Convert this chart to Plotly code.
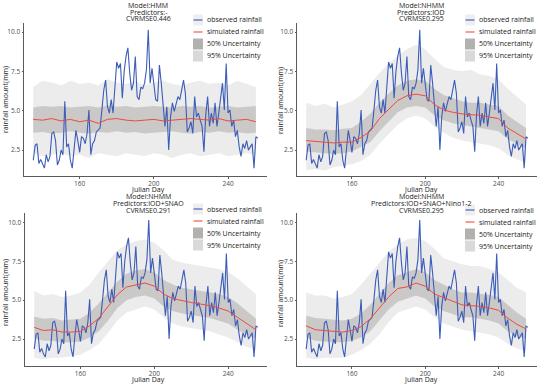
import plotly.graph_objects as go

# ---------------- data ----------------
obs_start_day = 135
observed = [1.85, 2.8, 2.9, 1.65, 1.9, 1.55, 1.35, 2.2, 1.75, 2.1,
            3.55, 3.65, 3.1, 1.55, 1.85, 2.5, 2.2, 5.6, 2.7, 2.9,
            1.85, 1.35, 2.7, 3.75, 3.1, 2.35, 3.35, 3.25, 2.9, 3.55,
            5.05, 2.2, 2.9, 3.1, 3.65, 3.75, 3.9, 5.05, 6.3, 6.95,
            5.25, 4.85, 5.7, 4.85, 6.3, 8.1, 7.7, 8.0, 5.8, 7.5,
            8.45, 9.0, 7.4, 6.3, 6.75, 8.45, 5.9, 5.7, 6.5, 6.4,
            6.75, 7.6, 10.15, 6.75, 7.7, 6.5, 5.7, 5.6, 7.9, 6.75,
            5.5, 4.0, 5.25, 2.5, 4.6, 5.5, 4.95, 5.5, 5.9, 5.7,
            6.3, 6.95, 6.1, 3.65, 3.9, 4.3, 3.55, 5.9, 4.6, 4.85,
            4.4, 4.0, 2.4, 4.75, 5.9, 4.0, 4.85, 4.2, 5.5, 4.0,
            4.85, 5.7, 6.75, 5.05, 8.0, 4.85, 5.05, 4.0, 4.4, 3.35,
            3.75, 2.7, 2.1, 2.9, 2.6, 3.1, 2.5, 2.7, 2.9, 1.35,
            3.35, 3.25]
obs_days = list(range(obs_start_day, obs_start_day + len(observed)))

sim_days = list(range(135, 256, 5))

# Panel 1: HMM
p1_mean = [4.45, 4.4, 4.5, 4.35, 4.45, 4.3, 4.4, 4.2, 4.45, 4.5, 4.4, 4.35, 4.4,
           4.45, 4.35, 4.4, 4.45, 4.5, 4.45, 4.4, 4.5, 4.35, 4.4, 4.45, 4.3]
p1_hi50 = [5.2, 5.3, 5.25, 5.3, 5.2, 5.25, 5.3, 5.2, 5.35, 5.25, 5.3, 5.2, 5.25,
           5.3, 5.25, 5.2, 5.3, 5.25, 5.3, 5.2, 5.25, 5.3, 5.2, 5.25, 5.3]
p1_lo50 = [3.6, 3.65, 3.55, 3.6, 3.7, 3.6, 3.55, 3.65, 3.6, 3.7, 3.6, 3.65, 3.55,
           3.6, 3.65, 3.7, 3.6, 3.55, 3.65, 3.6, 3.7, 3.6, 3.65, 3.55, 3.6]
p1_hi95 = [6.5, 6.9, 6.8, 6.6, 6.9, 6.7, 6.8, 6.6, 7.0, 6.8, 6.7, 6.9, 6.6,
           6.8, 6.9, 6.7, 6.6, 6.8, 6.9, 6.7, 6.8, 6.6, 6.9, 6.7, 6.5]
p1_lo95 = [2.3, 2.1, 2.2, 2.3, 2.1, 2.2, 2.0, 2.3, 2.2, 2.1, 2.3, 2.2, 2.1,
           2.3, 2.2, 2.0, 2.2, 2.3, 2.1, 2.2, 2.3, 2.1, 2.2, 2.3, 2.2]

# Panel 2: NHMM, IOD
p2_mean = [3.1, 3.05, 3.0, 2.95, 3.0, 3.0, 3.3, 3.7, 4.5, 5.05, 5.65, 5.95, 6.05,
           5.95, 5.4, 5.05, 4.9, 4.8, 4.75, 4.7, 4.6, 4.5, 3.9, 3.55, 3.2]
p2_hi50 = [3.9, 3.8, 3.8, 3.75, 3.85, 3.9, 4.3, 4.8, 5.5, 6.1, 6.6, 6.9, 7.0,
           6.9, 6.4, 6.0, 5.8, 5.6, 5.5, 5.5, 5.4, 5.3, 4.7, 4.3, 3.9]
p2_lo50 = [2.4, 2.35, 2.3, 2.25, 2.3, 2.4, 2.7, 3.0, 3.7, 4.3, 4.9, 5.2, 5.3,
           5.2, 4.7, 4.4, 4.2, 4.1, 4.0, 3.9, 3.8, 3.7, 3.2, 2.9, 2.6]
p2_hi95 = [5.5, 5.3, 5.45, 5.2, 5.4, 5.6, 6.0, 6.7, 7.4, 8.0, 8.5, 8.9, 9.2,
           8.9, 8.3, 7.8, 7.6, 7.5, 7.6, 7.3, 7.2, 7.0, 6.4, 5.9, 5.4]
p2_lo95 = [1.2, 1.3, 1.2, 1.4, 1.5, 1.6, 1.8, 2.2, 2.9, 3.5, 4.1, 4.5, 4.7,
           4.5, 4.0, 3.6, 3.3, 3.1, 3.0, 2.9, 2.8, 2.6, 2.2, 1.9, 1.7]

# Panel 3: NHMM, IOD+SNAO
p3_mean = [3.25, 3.05, 3.1, 2.95, 2.95, 3.0, 3.35, 3.85, 4.6, 5.35, 5.85, 6.0, 6.1,
           5.9, 5.4, 5.1, 4.95, 4.85, 4.75, 4.65, 4.5, 4.3, 3.9, 3.5, 3.1]
p3_hi50 = [3.95, 3.8, 3.85, 3.7, 3.75, 3.8, 4.2, 4.8, 5.5, 6.2, 6.7, 6.9, 7.0,
           6.8, 6.3, 6.0, 5.8, 5.7, 5.6, 5.5, 5.4, 5.2, 4.8, 4.3, 3.8]
p3_lo50 = [2.55, 2.4, 2.4, 2.3, 2.3, 2.35, 2.6, 3.0, 3.7, 4.5, 5.0, 5.2, 5.3,
           5.1, 4.6, 4.3, 4.15, 4.05, 3.95, 3.85, 3.7, 3.5, 3.1, 2.8, 2.5]
p3_hi95 = [5.6, 5.3, 5.4, 5.2, 5.3, 5.5, 6.0, 6.8, 7.5, 8.2, 8.6, 8.8, 8.9,
           8.7, 8.2, 7.6, 7.4, 7.3, 7.2, 7.1, 7.0, 6.8, 6.4, 5.9, 5.4]
p3_lo95 = [1.3, 1.2, 1.3, 1.3, 1.4, 1.5, 1.8, 2.2, 2.9, 3.7, 4.2, 4.4, 4.6,
           4.4, 3.9, 3.5, 3.3, 3.2, 3.1, 3.0, 2.8, 2.6, 2.3, 2.0, 1.8]

# Panel 4: NHMM, IOD+SNAO+Nino1-2
p4_mean = [3.35, 3.1, 3.05, 3.0, 2.95, 3.05, 3.3, 3.8, 4.5, 5.2, 5.75, 5.85, 6.1,
           5.9, 5.4, 5.15, 4.9, 4.7, 4.65, 4.6, 4.5, 4.35, 3.85, 3.45, 3.15]
p4_hi50 = [4.0, 3.85, 3.8, 3.75, 3.7, 3.8, 4.15, 4.7, 5.4, 6.1, 6.6, 6.8, 7.0,
           6.8, 6.3, 6.0, 5.7, 5.5, 5.5, 5.4, 5.35, 5.2, 4.7, 4.2, 3.8]
p4_lo50 = [2.6, 2.4, 2.35, 2.3, 2.3, 2.4, 2.6, 3.0, 3.7, 4.4, 4.9, 5.1, 5.3,
           5.1, 4.6, 4.3, 4.1, 3.9, 3.9, 3.8, 3.7, 3.5, 3.0, 2.7, 2.5]
p4_hi95 = [5.5, 5.3, 5.3, 5.1, 5.2, 5.4, 6.0, 6.7, 7.4, 8.1, 8.6, 8.9, 9.0,
           8.8, 8.3, 7.7, 7.5, 7.3, 7.2, 7.2, 7.0, 6.8, 6.3, 5.8, 5.5]
p4_lo95 = [1.3, 1.2, 1.3, 1.3, 1.3, 1.5, 1.8, 2.2, 2.8, 3.6, 4.2, 4.4, 4.6,
           4.4, 3.9, 3.5, 3.3, 3.1, 3.0, 2.9, 2.8, 2.6, 2.2, 1.9, 1.7]

titles = [
    ["Model:HMM", "Predictors:-", "CVRMSE0.446"],
    ["Model:NHMM", "Predictors:IOD", "CVRMSE0.295"],
    ["Model:NHMM", "Predictors:IOD+SNAO", "CVRMSE0.291"],
    ["Model:NHMM", "Predictors:IOD+SNAO+Nino1-2", "CVRMSE0.295"],
]
legend_labels = ["observed rainfall", "simulated rainfall", "50% Uncertainty", "95% Uncertainty"]
x_title = "Julian Day"
y_title = "rainfall amount(mm)"
x_ticks = [160, 200, 240]
y_ticks = [2.5, 5.0, 7.5, 10.0]
y_ticktext = ["2.5", "5.0", "7.5", "10.0"]

panels = [
    (p1_mean, p1_hi50, p1_lo50, p1_hi95, p1_lo95),
    (p2_mean, p2_hi50, p2_lo50, p2_hi95, p2_lo95),
    (p3_mean, p3_hi50, p3_lo50, p3_hi95, p3_lo95),
    (p4_mean, p4_hi50, p4_lo50, p4_hi95, p4_lo95),
]

# ---------------- style / layout ----------------
W, H = 550, 386
FONT = "Open Sans"
BLUE = "#3b5cb8"
RED = "#ec4b3f"
BAND95 = "#ececec"
BAND50 = "#cbc8c8"
KEY50 = "#b3b0b0"
KEY95 = "#d9d9d9"
TXT = "#222222"
TICK = "#4d4d4d"
AX = "#5a5a5a"

# plot areas in pixels: (left, right, top, bottom)
areas = [(24, 267, 22.6, 176), (297, 537, 22.6, 176),
         (25, 267, 213, 366), (297, 537, 213, 366)]
yranges = [[0.85, 10.6], [0.85, 10.6], [0.77, 10.6], [0.77, 10.6]]
title_pos = [(148, 5), (421, 5), (148, 196), (421, 196)]
legend_pos = [(193, 14), (465, 14), (193, 203), (465, 204)]
xtitle_pos = [(148, 189), (421, 189), (148, 379), (421, 379)]
ytitle_pos = [(5, 100), (280, 100), (5, 293), (280, 293)]

fig = go.Figure()
layout = dict(width=W, height=H, margin=dict(l=0, r=0, t=0, b=0),
              paper_bgcolor="white", plot_bgcolor="white", showlegend=False,
              font=dict(family=FONT, color=TXT, size=7))
annotations = []
shapes = []

def px(x):
    return x / W

def py(y):
    return 1 - y / H

for i, (mean, hi50, lo50, hi95, lo95) in enumerate(panels):
    k = "" if i == 0 else str(i + 1)
    xa, ya = "x" + k, "y" + k
    fig.add_trace(go.Scatter(x=sim_days + sim_days[::-1], y=hi95 + lo95[::-1],
                             fill="toself", fillcolor=BAND95, line=dict(width=0),
                             mode="lines", hoverinfo="skip", xaxis=xa, yaxis=ya))
    fig.add_trace(go.Scatter(x=sim_days + sim_days[::-1], y=hi50 + lo50[::-1],
                             fill="toself", fillcolor=BAND50, line=dict(width=0),
                             mode="lines", hoverinfo="skip", xaxis=xa, yaxis=ya))
    fig.add_trace(go.Scatter(x=obs_days, y=observed, mode="lines",
                             line=dict(color=BLUE, width=1.1), xaxis=xa, yaxis=ya))
    fig.add_trace(go.Scatter(x=sim_days, y=mean, mode="lines",
                             line=dict(color=RED, width=1.0), xaxis=xa, yaxis=ya))

    l, r, t, b = areas[i]
    layout["xaxis" + k] = dict(
        domain=[px(l), px(r)], anchor=ya, range=[130, 261], tickvals=x_ticks,
        showline=True, linecolor=AX, linewidth=1, ticks="outside", ticklen=1.5,
        tickcolor=AX, showgrid=False, zeroline=False, automargin=False,
        tickfont=dict(size=6.5, color=TICK))
    layout["yaxis" + k] = dict(
        domain=[py(b), py(t)], anchor=xa, range=yranges[i], tickvals=y_ticks,
        ticktext=y_ticktext, showline=True, linecolor=AX, linewidth=1,
        ticks="outside", ticklen=1.5, tickcolor=AX, showgrid=False, zeroline=False,
        automargin=False, tickfont=dict(size=6.5, color=TICK))

    # axis titles
    xx, xy = xtitle_pos[i]
    annotations.append(dict(x=px(xx), y=py(xy), xref="paper", yref="paper",
                            text=x_title, showarrow=False, xanchor="center",
                            yanchor="middle", font=dict(size=7, color=TXT)))
    yx, yy = ytitle_pos[i]
    annotations.append(dict(x=px(yx), y=py(yy), xref="paper", yref="paper",
                            text=y_title, showarrow=False, xanchor="center",
                            yanchor="middle", textangle=-90,
                            font=dict(size=7, color=TXT)))

    # panel titles
    tx, ty = title_pos[i]
    for j, line in enumerate(titles[i]):
        annotations.append(dict(x=px(tx), y=py(ty + j * 7), xref="paper", yref="paper",
                                text=line, showarrow=False, xanchor="center",
                                yanchor="middle", font=dict(size=7, color=TXT)))

    # manual legend
    lx, ly = legend_pos[i]
    kw, kh = 10, 12
    key_fill = ["#eeeeee", "white", KEY50, KEY95]
    for j, lab in enumerate(legend_labels):
        y0 = ly + j * kh
        shapes.append(dict(type="rect", xref="paper", yref="paper",
                           x0=px(lx), x1=px(lx + kw), y0=py(y0 + kh - 0.5), y1=py(y0 + 0.5),
                           fillcolor=key_fill[j], line=dict(width=0), layer="above"))
        if j < 2:
            shapes.append(dict(type="line", xref="paper", yref="paper",
                               x0=px(lx + 0.5), x1=px(lx + kw - 0.5),
                               y0=py(y0 + kh / 2), y1=py(y0 + kh / 2),
                               line=dict(color=BLUE if j == 0 else RED, width=1.1),
                               layer="above"))
        annotations.append(dict(x=px(lx + kw + 2), y=py(y0 + kh / 2), xref="paper",
                                yref="paper", text=lab, showarrow=False,
                                xanchor="left", yanchor="middle",
                                font=dict(size=7, color=TXT)))

layout["annotations"] = annotations
layout["shapes"] = shapes
fig.update_layout(**layout)
fig.write_html("out.html", config={"displayModeBar": False},
               post_script="document.body.style.margin='0';document.body.style.overflow='hidden';")
